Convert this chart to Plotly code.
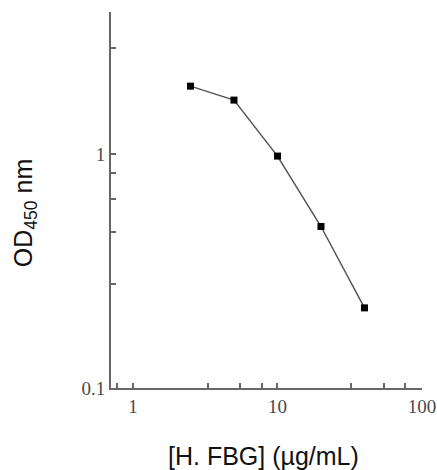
import plotly.graph_objects as go

# Data
concentration = [2.5, 5, 10, 20, 40]          # [H. FBG] (µg/mL)
od450 = [1.95, 1.70, 0.98, 0.49, 0.22]         # OD450 nm

x_tickvals = [0.774, 1, 3.31, 5.54, 7.86, 10, 32.1, 54.6, 76.0, 100]
x_ticktext = ["", "1", "", "", "", "10", "", "", "", "100"]
y_tickvals = [0.1, 0.278, 0.464, 0.642, 0.829, 1, 2.84]
y_ticktext = ["0.1", "", "", "", "", "1", ""]

fig = go.Figure()
fig.add_trace(go.Scatter(
    x=concentration, y=od450, mode="lines+markers",
    line=dict(color="#555555", width=1.5),
    marker=dict(symbol="square", size=7, color="#000000"),
    showlegend=False,
))

tickfont = dict(family="Liberation Serif, DejaVu Serif, serif", size=19, color="#4a4a4a")
fig.update_xaxes(
    type="log", range=[-0.152, 2.0], automargin=False,
    tickmode="array", tickvals=x_tickvals, ticktext=x_ticktext, tickangle=0,
    ticks="inside", ticklen=5, tickwidth=1.5, tickcolor="#666666",
    showline=True, linecolor="#666666", linewidth=1.8,
    showgrid=False, zeroline=False, tickfont=tickfont,
)
fig.update_yaxes(
    type="log", range=[-1, 0.607], automargin=False,
    tickmode="array", tickvals=y_tickvals, ticktext=y_ticktext,
    ticks="inside", ticklen=5, tickwidth=1.5, tickcolor="#666666",
    showline=True, linecolor="#666666", linewidth=1.8,
    showgrid=False, zeroline=False, tickfont=tickfont,
)

titlefont = dict(family="Liberation Sans, Arial, sans-serif", size=25, color="#111111")
fig.add_annotation(text="[H. FBG] (µg/mL)", xref="paper", yref="paper",
                   x=0.489, y=-0.181, showarrow=False, font=titlefont,
                   xanchor="center", yanchor="middle")
fig.add_annotation(text="OD<sub>450</sub> nm", xref="paper", yref="paper",
                   x=-0.2765, y=0.465, showarrow=False, font=titlefont,
                   textangle=-90, xanchor="center", yanchor="middle")

fig.update_layout(
    width=437, height=470,
    margin=dict(l=111, r=15, t=12, b=82),
    plot_bgcolor="white", paper_bgcolor="white",
)
# remove the default page margin so the figure fills the window exactly
fig.write_html("out.html", config={"displayModeBar": False},
               post_script="document.body.style.margin='0';document.body.style.overflow='hidden';")
